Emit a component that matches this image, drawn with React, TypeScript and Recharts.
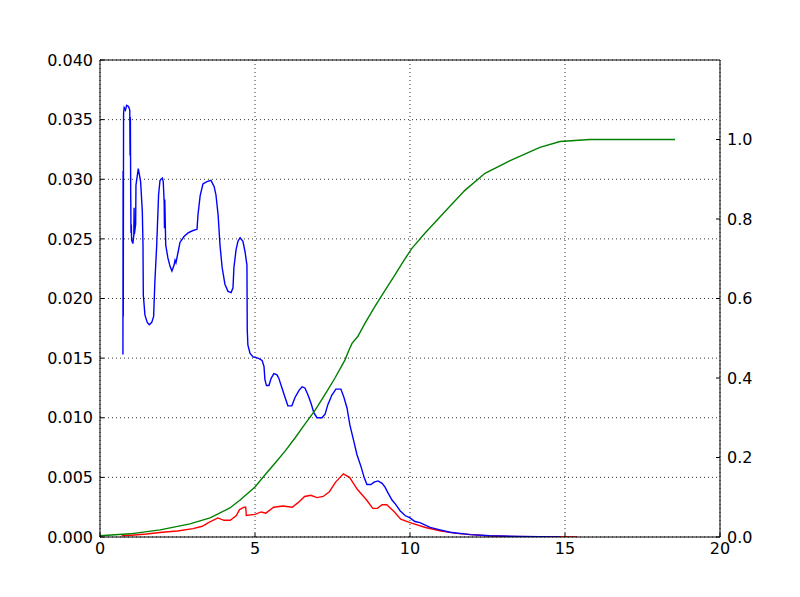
import React from 'react';
import { LineChart, Line, XAxis, YAxis, CartesianGrid } from 'recharts';

const blueX = [0.74, 0.745, 0.75, 0.76, 0.78, 0.82, 0.86, 0.92, 0.96, 0.97, 0.98, 0.99, 1.0, 1.01, 1.02, 1.06, 1.09, 1.1, 1.11, 1.15, 1.16, 1.235, 1.31, 1.365, 1.387, 1.397, 1.45, 1.525, 1.59, 1.67, 1.73, 1.77, 1.83, 1.89, 1.935, 2.01, 2.04, 2.07, 2.08, 2.09, 2.12, 2.19, 2.26, 2.32, 2.39, 2.42, 2.45, 2.52, 2.58, 2.71, 2.84, 3.0, 3.13, 3.16, 3.23, 3.32, 3.45, 3.58, 3.68, 3.74, 3.81, 3.87, 3.94, 4.03, 4.13, 4.23, 4.29, 4.32, 4.39, 4.45, 4.52, 4.61, 4.68, 4.74, 4.75, 4.77, 4.84, 4.94, 5.1, 5.23, 5.29, 5.32, 5.37, 5.45, 5.52, 5.61, 5.71, 5.77, 5.87, 5.97, 6.06, 6.19, 6.29, 6.42, 6.52, 6.61, 6.71, 6.81, 6.9, 7.0, 7.16, 7.26, 7.35, 7.48, 7.61, 7.77, 7.87, 7.97, 8.06, 8.19, 8.29, 8.42, 8.52, 8.61, 8.74, 8.84, 8.97, 9.1, 9.19, 9.29, 9.42, 9.55, 9.68, 9.84, 10.0, 10.16, 10.32, 10.65, 10.97, 11.29, 11.94, 12.58, 13.55, 14.84];
const blueY = [0.0153, 0.0307, 0.0185, 0.0355, 0.036, 0.0358, 0.0362, 0.0361, 0.0358, 0.032, 0.0352, 0.029, 0.0255, 0.0262, 0.0249, 0.0246, 0.0253, 0.0276, 0.0254, 0.0262, 0.0295, 0.0309, 0.0298, 0.0273, 0.0245, 0.0203, 0.0186, 0.018, 0.0178, 0.018, 0.0185, 0.0214, 0.0245, 0.0287, 0.0299, 0.0301, 0.0298, 0.0281, 0.0259, 0.0283, 0.0245, 0.0234, 0.0227, 0.0223, 0.0228, 0.0232, 0.023, 0.0239, 0.0247, 0.0252, 0.0255, 0.0257, 0.0258, 0.027, 0.0286, 0.0296, 0.0298, 0.0299, 0.0294, 0.0287, 0.027, 0.0245, 0.0226, 0.0212, 0.0206, 0.0205, 0.0209, 0.0226, 0.0241, 0.0248, 0.0251, 0.0248, 0.0239, 0.0228, 0.0174, 0.0161, 0.0154, 0.0151, 0.015, 0.0148, 0.0143, 0.0132, 0.0127, 0.0127, 0.0133, 0.0137, 0.0136, 0.0133, 0.0125, 0.0117, 0.011, 0.011, 0.0117, 0.0123, 0.0126, 0.0125, 0.0119, 0.0112, 0.0104, 0.01, 0.01, 0.0103, 0.0111, 0.0119, 0.0124, 0.0124, 0.0117, 0.0108, 0.0094, 0.008, 0.0069, 0.0059, 0.005, 0.0044, 0.0044, 0.0046, 0.0047, 0.0045, 0.0042, 0.0037, 0.0031, 0.0027, 0.0022, 0.0018, 0.0016, 0.0013, 0.0012, 0.0008, 0.0006, 0.0004, 0.0002, 0.0001, 0.00004, 0.00001];

const redX = [0.7, 1.0, 1.5, 2.0, 2.5, 3.0, 3.3, 3.5, 3.8, 4.0, 4.2, 4.4, 4.5, 4.65, 4.7, 4.72, 5.0, 5.2, 5.35, 5.6, 5.9, 6.2, 6.4, 6.6, 6.8, 7.0, 7.2, 7.4, 7.6, 7.85, 8.05, 8.3, 8.6, 8.8, 8.95, 9.1, 9.25, 9.5, 9.7, 10.0, 10.5, 11.0, 11.5, 12.0, 12.5, 13.0, 14.0, 15.4];
const redY = [0.0001, 0.00015, 0.00025, 0.0004, 0.0005, 0.0007, 0.0009, 0.0012, 0.0016, 0.0014, 0.0014, 0.0018, 0.0023, 0.0025, 0.0025, 0.0018, 0.0019, 0.0021, 0.002, 0.0025, 0.0026, 0.0025, 0.0029, 0.0034, 0.0035, 0.0033, 0.0034, 0.0038, 0.0046, 0.0053, 0.005, 0.004, 0.0031, 0.0024, 0.0024, 0.0027, 0.0027, 0.0021, 0.0015, 0.0012, 0.0008, 0.0005, 0.0003, 0.0002, 0.0001, 0.00006, 0.00002, 0];

const greenX = [0, 0.97, 1.94, 2.9, 3.55, 4.19, 4.52, 5.0, 5.32, 5.65, 5.97, 6.29, 6.61, 6.94, 7.26, 7.58, 7.9, 8.03, 8.13, 8.32, 8.55, 8.87, 9.19, 9.52, 9.84, 10.06, 10.48, 11.13, 11.77, 12.42, 13.23, 14.19, 14.84, 15.8, 18.55];
const greenY = [0.003, 0.008, 0.018, 0.033, 0.048, 0.073, 0.093, 0.126, 0.156, 0.186, 0.216, 0.249, 0.284, 0.319, 0.359, 0.4, 0.445, 0.47, 0.487, 0.505, 0.538, 0.58, 0.62, 0.66, 0.7, 0.726, 0.764, 0.819, 0.872, 0.915, 0.947, 0.98, 0.995, 1.0, 1.0];

const xTicks = [0, 5, 10, 15, 20];
const leftTicks = [0, 0.005, 0.01, 0.015, 0.02, 0.025, 0.03, 0.035, 0.04];
const rightTicks = [0, 0.2, 0.4, 0.6, 0.8, 1.0];

const blueData = blueX.map((x, i) => ({ x, y: blueY[i] }));
const redData = redX.map((x, i) => ({ x, y: redY[i] }));
const greenData = greenX.map((x, i) => ({ x, y: greenY[i] }));

const font = { fontFamily: 'DejaVu Sans', fontSize: 16, fill: '#000' };

export default function App() {
  return (
    <div style={{ position: 'absolute', left: 0, top: 0, width: 800, height: 597, background: '#fff' }}>
      <LineChart width={800} height={597} margin={{ top: 59, right: 0, left: 0, bottom: 0 }}>
        <CartesianGrid xAxisId="bottom" yAxisId="left" stroke="#000" strokeDasharray="1 3" strokeWidth={0.8} horizontalValues={leftTicks} verticalValues={xTicks} />
        <XAxis xAxisId="bottom" type="number" dataKey="x" domain={[0, 20]} ticks={xTicks} orientation="bottom" height={60}
          tick={font} tickSize={-4} tickMargin={10} axisLine={{ stroke: '#000' }} tickLine={{ stroke: '#000' }} allowDataOverflow />
        <XAxis xAxisId="top" type="number" dataKey="x" domain={[0, 20]} ticks={xTicks} orientation="top" height={1}
          tick={false} tickSize={-4} axisLine={{ stroke: '#000' }} tickLine={{ stroke: '#000' }} allowDataOverflow />
        <YAxis yAxisId="left" type="number" orientation="left" width={100} domain={[0, 0.04]} ticks={leftTicks}
          tickFormatter={(v: number) => v.toFixed(3)} tick={font} tickSize={-4} tickMargin={11}
          axisLine={{ stroke: '#000' }} tickLine={{ stroke: '#000' }} allowDataOverflow />
        <YAxis yAxisId="right" type="number" orientation="right" width={80} domain={[0, 1.2]} ticks={rightTicks}
          tickFormatter={(v: number) => v.toFixed(1)} tick={{ ...font, textAnchor: 'start' }} tickSize={-4} tickMargin={11}
          axisLine={{ stroke: '#000' }} tickLine={{ stroke: '#000' }} allowDataOverflow />
        <Line xAxisId="bottom" yAxisId="left" data={redData} dataKey="y" type="linear" stroke="#ff0000" strokeWidth={1.4} dot={false} isAnimationActive={false} />
        <Line xAxisId="bottom" yAxisId="left" data={blueData} dataKey="y" type="linear" stroke="#0000ff" strokeWidth={1.4} dot={false} isAnimationActive={false} />
        <Line xAxisId="bottom" yAxisId="right" data={greenData} dataKey="y" type="linear" stroke="#008000" strokeWidth={1.4} dot={false} isAnimationActive={false} />
      </LineChart>
    </div>
  );
}
